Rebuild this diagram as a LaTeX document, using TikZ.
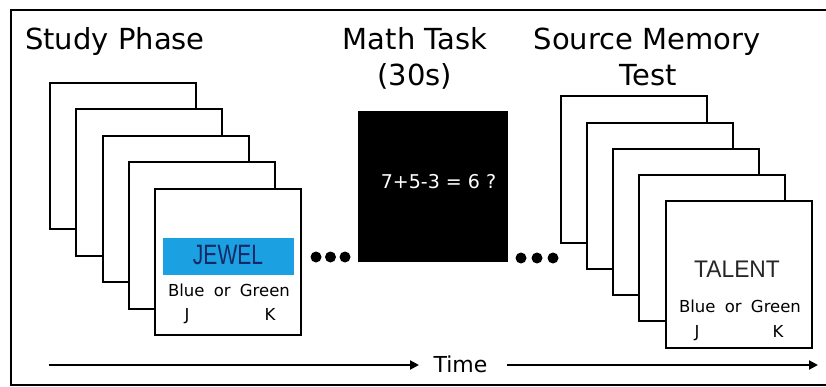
\documentclass[tikz,border=0pt]{standalone}
\usepackage{graphicx}
\usepackage{fontspec}
\setmainfont{DejaVu Sans}
\newfontfamily\narrowfont{Liberation Sans}
\usetikzlibrary{arrows.meta}
\definecolor{jewelblue}{RGB}{27,161,226}
\definecolor{jeweltext}{RGB}{20,40,100}
\tikzset{
  card/.style={draw=black, line width=2pt, fill=white, minimum width=146pt, minimum height=146pt, inner sep=0pt},
  mathcard/.style={draw=black, line width=1pt, fill=black, minimum width=149pt, minimum height=149pt, inner sep=0pt},
  title/.style={font=\fontsize{29}{31}\selectfont, inner sep=0pt},
  cardtext/.style={font=\fontsize{16.5}{18}\selectfont, inner sep=0pt},
  wordtext/.style={inner sep=0pt},
  dotmark/.style={circle, fill=black, minimum size=11pt, inner sep=0pt},
  timearrow/.style={line width=2pt, -{Triangle[length=9pt,width=9pt]}},
  frameline/.style={line width=2pt},
}
\begin{document}
\begin{tikzpicture}[x=1pt,y=-1pt]
\useasboundingbox (0,0) rectangle (826,387);
% frame
\draw[frameline] (826,10) -- (10.5,10) -- (10.5,385) -- (826,385);
% titles
\node[title, anchor=base west] (tstudy) at (25,50) {Study Phase};
\node[title, anchor=base] (tmath) at (415,50) {Math Task};
\node[title, anchor=base] (tmath2) at (415,86) {(30s)};
\node[title, anchor=base] (tsource) at (647,50) {Source Memory};
\node[title, anchor=base] (tsource2) at (648,86) {Test};
% study cards
\node[card] (s1) at (123,156) {};
\node[card] (s2) at (149.25,182.5) {};
\node[card] (s3) at (175.5,209) {};
\node[card] (s4) at (201.75,235.5) {};
\node[card] (s5) at (228,262) {};
\node[fill=jewelblue, minimum width=131pt, minimum height=37pt, inner sep=0pt] (jbox) at (228.5,256.5) {};
\node[wordtext, anchor=base, text=jeweltext, font=\narrowfont\fontsize{28}{30}\selectfont] (jewel) at (228,264) {\scalebox{0.75}[1]{JEWEL}};
\node[cardtext, anchor=base] (sbg) at (229,296) {Blue\hspace{4pt} or\hspace{4pt} Green};
\node[cardtext, anchor=base] (sj) at (187,320) {J};
\node[cardtext, anchor=base] (sk) at (270,320) {K};
% dots left
\node[dotmark] (d1) at (316,257) {};
\node[dotmark] (d2) at (330.5,257) {};
\node[dotmark] (d3) at (345,257) {};
% math box
\node[mathcard] (math) at (432.5,186.5) {};
\node[wordtext, anchor=base, text=white, font=\fontsize{19}{21}\selectfont] (eq) at (438.5,189) {7+5-3 = 6 ?};
% dots right
\node[dotmark] (e1) at (521,258) {};
\node[dotmark] (e2) at (537,258) {};
\node[dotmark] (e3) at (553,258) {};
% test cards
\node[card] (t1) at (634,169.5) {};
\node[card] (t2) at (660.1,195.75) {};
\node[card] (t3) at (686.25,222) {};
\node[card] (t4) at (712.4,248.25) {};
\node[card] (t5) at (738.5,274.5) {};
\node[wordtext, anchor=base, text=black!85, font=\narrowfont\fontsize{24}{26}\selectfont] (talent) at (737,277) {\scalebox{0.95}[1]{TALENT}};
\node[cardtext, anchor=base] (tbg) at (740,312) {Blue\hspace{4pt} or\hspace{4pt} Green};
\node[cardtext, anchor=base] (tj) at (697,337) {J};
\node[cardtext, anchor=base] (tk) at (778,337) {K};
% time axis
\node[wordtext, anchor=base, font=\fontsize{22}{24}\selectfont] (time) at (460.5,372) {Time};
\coordinate (ta) at (49,365);
\coordinate (tb) at (419,365);
\coordinate (tc) at (507,365);
\coordinate (td) at (818,365);
\draw[timearrow] (ta) -- (tb);
\draw[timearrow] (tc) -- (td);
\end{tikzpicture}
\end{document}
